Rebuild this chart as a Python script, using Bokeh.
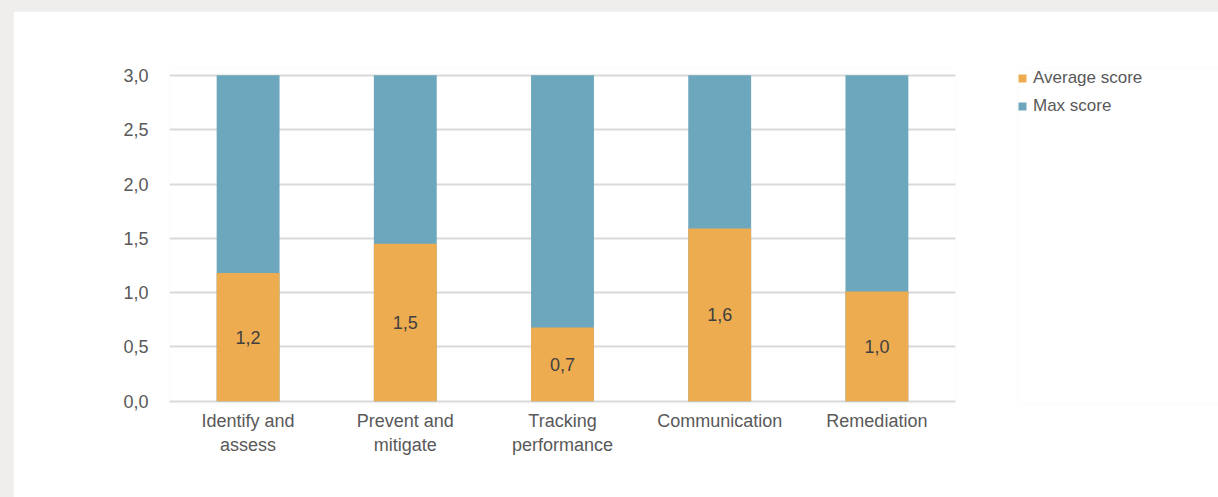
from bokeh.plotting import figure
from bokeh.models import ColumnDataSource, Range1d, FactorRange, FixedTicker, Legend, LegendItem, Row
from bokeh.core.properties import value
from bokeh.embed import file_html
from bokeh.resources import INLINE

categories = ["Identify and\nassess", "Prevent and\nmitigate", "Tracking\nperformance", "Communication", "Remediation"]
average_score = [1.18, 1.45, 0.68, 1.59, 1.01]
average_labels = ["1,2", "1,5", "0,7", "1,6", "1,0"]
max_score = [3.0, 3.0, 3.0, 3.0, 3.0]
y_ticks = [0.0, 0.5, 1.0, 1.5, 2.0, 2.5, 3.0]
y_tick_labels = ["0,0", "0,5", "1,0", "1,5", "2,0", "2,5", "3,0"]
series_names = ["Average score", "Max score"]

FONT = "Liberation Sans"
ORANGE = "#eeac50"
BLUE = "#6ca7bd"
TEXT = "#595959"

src = ColumnDataSource(dict(
    cat=categories,
    avg=average_score,
    mx=max_score,
    lab=average_labels,
    mid=[v / 2 for v in average_score],
))

p = figure(
    width=972, height=486,
    x_range=FactorRange(*categories, range_padding=0),
    y_range=Range1d(-0.02, 3.063),
    output_backend="svg", toolbar_location=None,
    min_border_left=156, min_border_right=30,
    min_border_top=57, min_border_bottom=94,
    margin=(11, 0, 0, 13),
)
p.outline_line_color = None
p.background_fill_color = "white"
p.border_fill_color = "white"

p.vbar(x="cat", top="mx", bottom=0, width=0.4, source=src, fill_color=BLUE, line_color=None)
p.vbar(x="cat", top="avg", bottom=0, width=0.4, source=src, fill_color=ORANGE, line_color=None)

p.text(x="cat", y="mid", text="lab", source=src, text_align="center", text_baseline="middle",
       text_font=value(FONT), text_font_size="18px", text_color="#404040")

p.yaxis.ticker = FixedTicker(ticks=y_ticks)
p.yaxis.major_label_overrides = {t: l for t, l in zip(y_ticks, y_tick_labels)}
p.ygrid.ticker = FixedTicker(ticks=y_ticks)
p.ygrid.grid_line_color = "#d9d9d9"
p.ygrid.grid_line_width = 2
p.xgrid.grid_line_color = None

for ax in (p.xaxis, p.yaxis):
    ax.axis_line_color = None
    ax.major_tick_line_color = None
    ax.minor_tick_line_color = None
    ax.major_label_text_font = FONT
    ax.major_label_text_font_size = "18px"
    ax.major_label_text_color = TEXT
p.yaxis.major_label_standoff = 15
p.xaxis.major_label_standoff = 1

# legend panel: zero-width copies of the bars, only their legend swatches show
lf = figure(width=234, height=486, title=None,
            x_range=FactorRange(*categories), y_range=Range1d(10, 11),
            output_backend="svg", toolbar_location=None, x_axis_type=None, y_axis_type=None,
            min_border_left=33, min_border_right=0, min_border_bottom=0, min_border_top=25,
            margin=(11, 0, 0, -1))
lf.outline_line_color = None
lf.grid.grid_line_color = None
lf.background_fill_color = "white"
lf.border_fill_color = "white"
l_avg = lf.vbar(x="cat", top="avg", bottom=0, width=0, source=src, fill_color=ORANGE, line_color=None)
l_max = lf.vbar(x="cat", top="mx", bottom=0, width=0, source=src, fill_color=BLUE, line_color=None)

legend = Legend(items=[LegendItem(label=series_names[0], renderers=[l_avg], index=0),
                       LegendItem(label=series_names[1], renderers=[l_max], index=0)],
                location="top_left", orientation="vertical",
                label_text_font=FONT, label_text_font_size="17px", label_text_color=TEXT,
                glyph_width=10, glyph_height=10, spacing=8, label_standoff=6,
                label_height=20, border_line_color=None, background_fill_alpha=0,
                padding=0, margin=0)
lf.add_layout(legend, "center")

root = Row(children=[p, lf], width=1218, height=497, styles={"background-color": "#efeeec"})

open("out.html", "w").write(file_html(root, INLINE))
